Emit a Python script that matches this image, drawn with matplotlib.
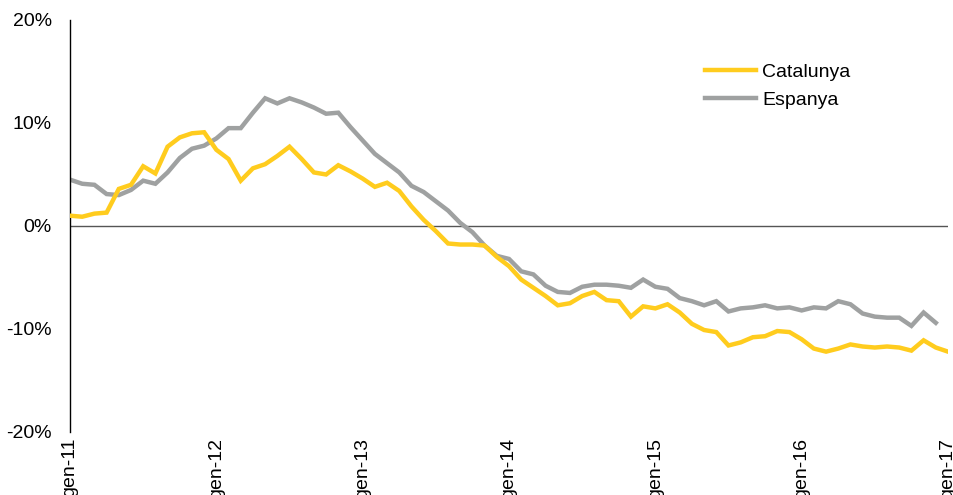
import numpy as np
import matplotlib
matplotlib.use('Agg')
import matplotlib.pyplot as plt

# dades mensuals, gen-11 a gen-17 (%)
catalunya = [1.0, 0.9, 1.2, 1.3, 3.6, 4.0, 5.8, 5.1, 7.7, 8.6, 9.0, 9.1,
             7.4, 6.5, 4.4, 5.6, 6.0, 6.8, 7.7, 6.5, 5.2, 5.0, 5.9, 5.3,
             4.6, 3.8, 4.2, 3.4, 1.9, 0.6, -0.5, -1.7, -1.8, -1.8, -1.9, -3.0,
             -3.9, -5.2, -6.0, -6.8, -7.7, -7.5, -6.8, -6.4, -7.2, -7.3, -8.8, -7.8,
             -8.0, -7.6, -8.4, -9.5, -10.1, -10.3, -11.6, -11.3, -10.8, -10.7, -10.2, -10.3,
             -11.0, -11.9, -12.2, -11.9, -11.5, -11.7, -11.8, -11.7, -11.8, -12.1, -11.1, -11.8,
             -12.2]
espanya = [4.5, 4.1, 4.0, 3.1, 3.0, 3.5, 4.4, 4.1, 5.2, 6.6, 7.5, 7.8,
           8.5, 9.5, 9.5, 11.0, 12.4, 11.9, 12.4, 12.0, 11.5, 10.9, 11.0, 9.6,
           8.3, 7.0, 6.1, 5.2, 3.9, 3.3, 2.4, 1.5, 0.3, -0.6, -1.9, -2.9,
           -3.2, -4.4, -4.7, -5.8, -6.4, -6.5, -5.9, -5.7, -5.7, -5.8, -6.0, -5.2,
           -5.9, -6.1, -7.0, -7.3, -7.7, -7.3, -8.3, -8.0, -7.9, -7.7, -8.0, -7.9,
           -8.2, -7.9, -8.0, -7.3, -7.6, -8.5, -8.8, -8.9, -8.9, -9.7, -8.4, -9.4]
tick_labels = ['gen-11', 'gen-12', 'gen-13', 'gen-14', 'gen-15', 'gen-16', 'gen-17']
y_ticks = [-20, -10, 0, 10, 20]

plt.rcParams['font.family'] = ['Liberation Sans', 'DejaVu Sans']

fig = plt.figure(figsize=(9.54, 4.95), dpi=100)
ax = fig.add_axes([0.0734, 0.1273, 0.9203, 0.8323])

ax.axhline(0, color='#555555', lw=1, zorder=1)
ax.plot(np.arange(len(catalunya)), catalunya, color='#FFCC1E', lw=3.2, label='Catalunya',
        solid_joinstyle='miter', zorder=3)
ax.plot(np.arange(len(espanya)), espanya, color='#9FA1A1', lw=3.2, label='Espanya',
        solid_joinstyle='miter', zorder=2)

ax.set_xlim(0, 72)
ax.set_ylim(-20, 20)
ax.set_xticks(np.arange(0, 73, 12))
ax.set_xticklabels(tick_labels, rotation=90, va='top', ha='center')
ax.set_yticks(y_ticks)
ax.set_yticklabels(['%d%%' % v for v in y_ticks])
ax.tick_params(axis='both', length=0, labelsize=14)
ax.tick_params(axis='y', pad=13)
ax.tick_params(axis='x', pad=4)

for s in ['top', 'right', 'bottom']:
    ax.spines[s].set_visible(False)
ax.spines['left'].set_color('black')
ax.spines['left'].set_linewidth(1)

ax.legend(loc='upper left', bbox_to_anchor=(705 / 954, 1 - 63 / 495),
          bbox_transform=fig.transFigure, frameon=False, fontsize=14,
          handlelength=2.6, handletextpad=0.35, borderpad=0, borderaxespad=0,
          labelspacing=0.55)

fig.savefig('out.png', dpi=100)
